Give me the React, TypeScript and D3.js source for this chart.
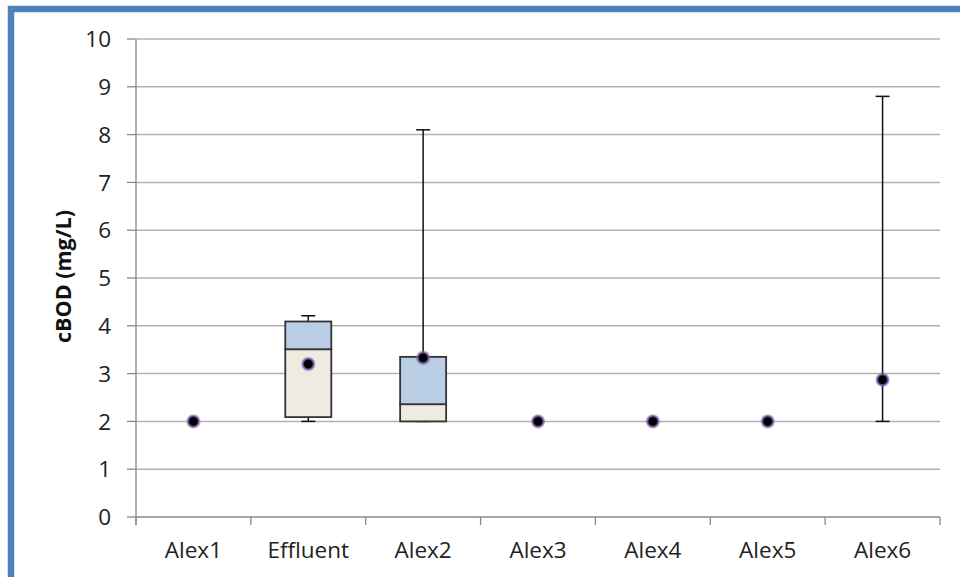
import React from "react";
import * as d3 from "d3";

const categories = ["Alex1", "Effluent", "Alex2", "Alex3", "Alex4", "Alex5", "Alex6"];
const minValues = [null, 2.0, 2.0, null, null, null, 2.0];
const q1Values = [null, 2.09, 2.0, null, null, null, null];
const medianValues = [null, 3.51, 2.36, null, null, null, null];
const q3Values = [null, 4.09, 3.35, null, null, null, null];
const maxValues = [null, 4.21, 8.1, null, null, null, 8.8];
const meanValues = [2.0, 3.2, 3.33, 2.0, 2.0, 2.0, 2.87];
const yTicks = [0, 1, 2, 3, 4, 5, 6, 7, 8, 9, 10];

const W = 960;
const H = 577;
const left = 136;
const right = 940;
const top = 39;
const bottom = 517;

export default function App() {
  const x = d3.scaleBand<string>().domain(categories).range([left, right]).padding(0);
  const y = d3.scaleLinear().domain([0, 10]).range([bottom, top]);
  const bw = x.bandwidth();
  const boxW = 46;
  const capW = 14;
  const font = "'Open Sans', 'Liberation Sans', sans-serif";

  return (
    <svg width={W} height={H} style={{ position: "absolute", left: 0, top: 0, background: "#fff" }}>
      <defs>
        <radialGradient id="halo">
          <stop offset="0%" stopColor="#000" />
          <stop offset="50%" stopColor="#000" />
          <stop offset="65%" stopColor="#5e3f8f" />
          <stop offset="85%" stopColor="#8064a2" stopOpacity="0.6" />
          <stop offset="100%" stopColor="#8064a2" stopOpacity="0.1" />
        </radialGradient>
      </defs>
      <rect x={0} y={0} width={W} height={H} fill="#fff" />
      {/* frame */}
      <rect x={11} y={9} width={W + 20} height={H + 20} fill="none" stroke="#4f81bd" strokeWidth={6.5} />
      {/* gridlines */}
      {yTicks.filter((t) => t > 0).map((t) => (
        <line key={"g" + t} x1={left} x2={right} y1={y(t)} y2={y(t)} stroke="#b2b2b2" strokeWidth={1.5} />
      ))}
      {/* axes */}
      <line x1={left} x2={left} y1={top} y2={bottom + 8} stroke="#888" strokeWidth={1.3} />
      <line x1={left} x2={right} y1={bottom} y2={bottom} stroke="#888" strokeWidth={1.3} />
      {yTicks.map((t) => (
        <line key={"yt" + t} x1={left - 9} x2={left} y1={y(t)} y2={y(t)} stroke="#888" strokeWidth={1.3} />
      ))}
      {categories.map((c, i) => (
        <line key={"xt" + i} x1={x(c)!} x2={x(c)!} y1={bottom} y2={bottom + 8} stroke="#888" strokeWidth={1.3} />
      ))}
      <line x1={right} x2={right} y1={bottom} y2={bottom + 8} stroke="#888" strokeWidth={1.3} />
      {/* y tick labels */}
      {yTicks.map((t) => (
        <text key={"yl" + t} x={111} y={y(t)} dy="0.36em" textAnchor="end" fontFamily={font} fontSize={22.5} fill="#222">
          {t}
        </text>
      ))}
      {/* x labels */}
      {categories.map((c) => (
        <text key={"xl" + c} x={x(c)! + bw / 2} y={558} textAnchor="middle" fontFamily={font} fontSize={22.5} fill="#222">
          {c}
        </text>
      ))}
      {/* y title */}
      <text
        transform={`translate(71,276.5) rotate(-90)`}
        textAnchor="middle"
        fontFamily={font}
        fontSize={21.5}
        fontWeight="bold"
        fill="#111"
      >
        cBOD (mg/L)
      </text>
      {/* whiskers */}
      {categories.map((c, i) => {
        const cx = x(c)! + bw / 2;
        const lo = minValues[i];
        const hi = maxValues[i];
        if (lo == null || hi == null) return null;
        return (
          <g key={"w" + c}>
            <line x1={cx} x2={cx} y1={y(lo)} y2={y(hi)} stroke="#111" strokeWidth={1.5} />
            <line x1={cx - capW / 2} x2={cx + capW / 2} y1={y(lo)} y2={y(lo)} stroke="#111" strokeWidth={1.5} />
            <line x1={cx - capW / 2} x2={cx + capW / 2} y1={y(hi)} y2={y(hi)} stroke="#111" strokeWidth={1.5} />
          </g>
        );
      })}
      {/* boxes */}
      {categories.map((c, i) => {
        const cx = x(c)! + bw / 2;
        const q1 = q1Values[i];
        const md = medianValues[i];
        const q3 = q3Values[i];
        if (q1 == null || md == null || q3 == null) return null;
        return (
          <g key={"b" + c}>
            <rect x={cx - boxW / 2} y={y(md)} width={boxW} height={y(q1) - y(md)} fill="#eeece1" stroke="#333" strokeWidth={1.8} />
            <rect x={cx - boxW / 2} y={y(q3)} width={boxW} height={y(md) - y(q3)} fill="#b9cde5" stroke="#333" strokeWidth={1.8} />
          </g>
        );
      })}
      {/* means */}
      {categories.map((c, i) => {
        const cx = x(c)! + bw / 2;
        return <circle key={"m" + c} cx={cx} cy={y(meanValues[i])} r={7.5} fill="url(#halo)" />;
      })}
    </svg>
  );
}
